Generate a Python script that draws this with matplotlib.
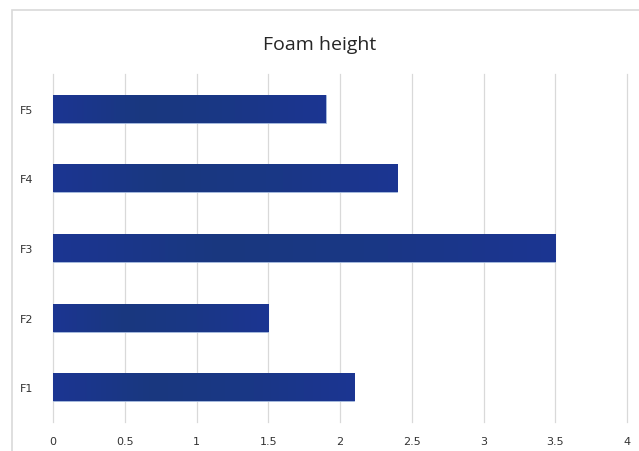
import matplotlib.pyplot as plt
import numpy as np
from matplotlib.colors import LinearSegmentedColormap
from matplotlib.patches import Rectangle

categories = ["F1", "F2", "F3", "F4", "F5"]
heights = [2.1, 1.5, 3.5, 2.4, 1.9]
x_ticks = [0, 0.5, 1, 1.5, 2, 2.5, 3, 3.5, 4]
x_tick_labels = ["0", "0.5", "1", "1.5", "2", "2.5", "3", "3.5", "4"]

BAR_CMAP = LinearSegmentedColormap.from_list(
    "navy", ["#1c3592", "#19387f", "#1a3786", "#1c3592"]
)

fig = plt.figure(figsize=(6.39, 4.52), dpi=100)
fig.patch.set_facecolor("white")

# chart frame
fig.add_artist(Rectangle((12 / 639, -0.1), 1.0, 1.1 - 11 / 452,
                         transform=fig.transFigure, fill=False,
                         edgecolor="#d9d9d9", linewidth=1.2))

ax = fig.add_axes([53 / 639, 1 - 423 / 452, 574 / 639, 348 / 452])
y = np.arange(len(categories))
bars = ax.barh(y, heights, height=0.4, color="#1a3688",
               edgecolor="#a8bde0", linewidth=0.6, zorder=3)

# horizontal gradient inside each bar
grad = np.linspace(0, 1, 256).reshape(1, -1)
for bar in bars:
    x0, y0 = bar.get_x(), bar.get_y()
    w, h = bar.get_width(), bar.get_height()
    im = ax.imshow(grad, cmap=BAR_CMAP, aspect="auto",
                   extent=(x0, x0 + w, y0, y0 + h), zorder=3.5)
    im.set_clip_path(bar)

ax.set_xlim(0, 4)
ax.set_ylim(-0.5, 4.5)
ax.set_xticks(x_ticks)
ax.set_xticklabels(x_tick_labels)
ax.set_yticks(y)
ax.set_yticklabels(categories)
ax.tick_params(axis="both", length=0, labelsize=8, colors="#333333")
ax.tick_params(axis="x", pad=10)
ax.tick_params(axis="y", pad=14)
ax.grid(axis="x", color="#d9d9d9", linewidth=0.9, zorder=0)
for line in ax.get_xgridlines():
    line.set_clip_on(False)
for side in ax.spines.values():
    side.set_visible(False)

fig.text(320 / 639, 1 - 45 / 452, "Foam height", ha="center", va="center",
         fontsize=14, color="#262626", family="Open Sans")

fig.savefig("out.png", dpi=100)
